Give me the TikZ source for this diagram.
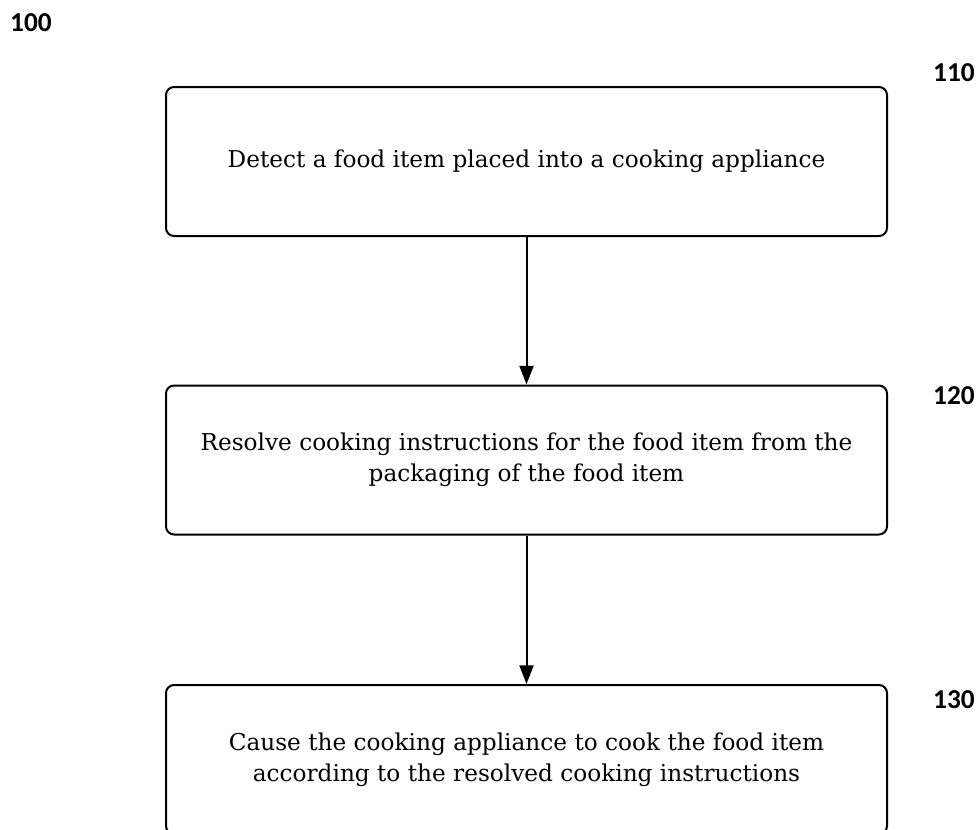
\documentclass[tikz,border=0pt]{standalone}
\usepackage{fontspec}
\setmainfont{DejaVu Serif}
\newfontfamily\labfont{Carlito}
\usetikzlibrary{arrows.meta}
\begin{document}
\begin{tikzpicture}[x=0.75pt,y=-0.75pt,
  stepbox/.style={draw,line width=1.5pt,rounded corners=6pt,minimum width=721*0.75pt,minimum height=149*0.75pt,inner sep=0pt,align=center,font=\fontsize{17.4}{23.25}\selectfont},
  reflabel/.style={font=\labfont\bfseries\fontsize{20.5}{22}\selectfont},
  flow/.style={line width=1.5pt,-{Triangle[length=14pt,width=10.5pt]}}]
\useasboundingbox (0,0) rectangle (979,829);
\clip (0,0) rectangle (979,829);
\node[stepbox] (s1) at (526.5,161.5) {Detect a food item placed into a cooking appliance};
\node[stepbox] (s2) at (526.5,460) {Resolve cooking instructions for the food item from the\\packaging of the food item};
\node[stepbox] (s3) at (526.5,759.5) {Cause the cooking appliance to cook the food item\\according to the resolved cooking instructions};
\node[reflabel] (l100) at (31,23) {100};
\node[reflabel] (l110) at (954,73) {110};
\node[reflabel] (l120) at (954,396) {120};
\node[reflabel] (l130) at (954,700) {130};
\draw[flow] (s1) -- (s2);
\draw[flow] (s2) -- (s3);
\end{tikzpicture}
\end{document}
